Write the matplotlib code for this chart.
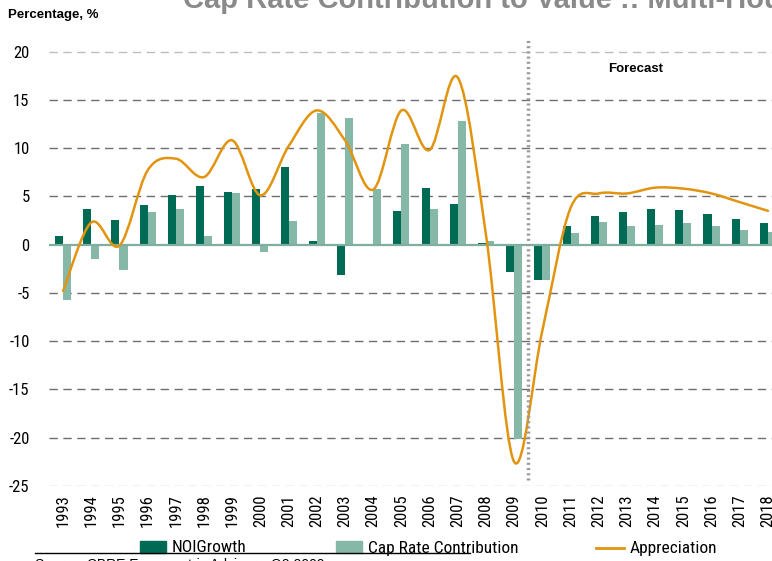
import numpy as np
import matplotlib
matplotlib.use('Agg')
import matplotlib.pyplot as plt
from matplotlib.path import Path
from matplotlib.patches import PathPatch, Rectangle
from matplotlib.lines import Line2D
from matplotlib import font_manager

years = [str(y) for y in range(1993, 2019)]
noi_growth = [0.9, 3.7, 2.5, 4.1, 5.1, 6.1, 5.4, 5.8, 8.0, 0.4, -3.1, 0.1, 3.5,
              5.9, 4.2, 0.2, -2.8, -3.7, 1.9, 3.0, 3.4, 3.7, 3.6, 3.2, 2.7, 2.2]
cap_rate = [-5.7, -1.5, -2.6, 3.4, 3.7, 0.9, 5.3, -0.8, 2.4, 13.6, 13.1, 5.8, 10.4,
            3.7, 12.8, 0.4, -20.1, -3.7, 1.2, 2.3, 1.9, 2.0, 2.2, 1.9, 1.5, 1.3]
appreciation = [-4.8, 2.3, -0.1, 7.7, 8.9, 7.0, 10.8, 5.1, 10.2, 13.9, 10.8, 5.7, 13.9,
                9.8, 17.3, 1.0, -22.5, -8.9, 3.8, 5.3, 5.3, 5.9, 5.8, 5.3, 4.4, 3.5]
yticks = [20, 15, 10, 5, 0, -5, -10, -15, -20, -25]
legend_labels = ['NOIGrowth', 'Cap Rate Contribution', 'Appreciation']

DARK = '#006b54'
LIGHT = '#86b8a8'
ORANGE = '#e3940f'
BOLD = ['Liberation Sans', 'DejaVu Sans']

# narrow font for ticks / legend if one exists
names = {f.name for f in font_manager.fontManager.ttflist}
NARROW = dict(family=['DejaVu Sans'], stretch='condensed')
for cand in ['Liberation Sans Narrow', 'Roboto Condensed', 'Open Sans Condensed',
             'DejaVu Sans Condensed']:
    if cand in names:
        NARROW = dict(family=[cand, 'DejaVu Sans'])
        break


def smooth_path(xs, ys):
    # excel style smoothed line: bezier segments through every point
    pts = np.column_stack([xs, ys])
    verts = [pts[0]]
    codes = [Path.MOVETO]
    n = len(pts)
    for i in range(n - 1):
        p0 = pts[i - 1] if i > 0 else pts[i]
        p1 = pts[i]
        p2 = pts[i + 1]
        p3 = pts[i + 2] if i + 2 < n else pts[i + 1]
        c1 = p1 + (p2 - p0) / 6.0
        c2 = p2 - (p3 - p1) / 6.0
        verts += [c1, c2, p2]
        codes += [Path.CURVE4] * 3
    return Path(verts, codes)


fig = plt.figure(figsize=(7.72, 5.61), dpi=100)
W, H = 772, 561
ax = fig.add_axes([49 / W, 1 - 486 / H, 733 / W, 448 / H])

x = np.arange(len(years))
bw = 0.285
ax.bar(x - bw / 2, noi_growth, width=bw, color=DARK, zorder=3)
ax.bar(x + bw / 2, cap_rate, width=bw, color=LIGHT, zorder=3)

patch = PathPatch(smooth_path(x, appreciation), facecolor='none',
                  edgecolor=ORANGE, lw=1.8, zorder=5, capstyle='round')
ax.add_patch(patch)

ax.set_xlim(-0.5, len(years) - 0.5)
ax.set_ylim(-25, 21.4)

for t in yticks:
    if t == 0:
        ax.axhline(0, color='#7fae9f', lw=1.6, zorder=4)
    else:
        c = '#bdbdbd' if t in (20, -25) else '#6e6e6e'
        ax.axhline(t, color=c, lw=1.0, ls=(0, (6, 4)), zorder=1)

ax.axvline(16.5, ymin=0.013, ymax=1.0, color='#9a9a9a', lw=2.5, ls=(0, (0.6, 0.9)),
           zorder=6)
ax.text(20.3, 18.2, 'Forecast', fontsize=9.5, fontweight='bold', family=BOLD,
        ha='center', va='center')

for s in ax.spines.values():
    s.set_visible(False)
ax.set_yticks(yticks)
ax.set_yticklabels([str(t) for t in yticks], fontsize=12, **NARROW)
ax.set_xticks(x)
ax.set_xticklabels(years, rotation=90, fontsize=12, **NARROW)
ax.tick_params(axis='both', length=0, pad=6)
ax.tick_params(axis='y', pad=14)

fig.text(8 / W, 1 - 15 / H, 'Percentage, %', fontsize=9.5, fontweight='bold',
         family=BOLD, va='center', ha='left')
fig.text(183 / W, 1 - 8 / H, 'Cap Rate Contribution to Value :: Multi-Housing',
         fontsize=21, fontweight='bold', color='#8a8a8a', family=BOLD,
         va='baseline', ha='left')

# legend drawn by hand along the bottom
ly = 1 - 548 / H
fig.add_artist(Rectangle((140 / W, 1 - 553 / H), 26 / W, 12 / H,
                         color=DARK, transform=fig.transFigure))
fig.add_artist(Rectangle((336 / W, 1 - 553 / H), 26 / W, 12 / H,
                         color=LIGHT, transform=fig.transFigure))
fig.add_artist(Line2D([596 / W, 624 / W], [ly, ly], color=ORANGE, lw=2))
for lx, lab in zip([172, 368, 630], legend_labels):
    fig.text(lx / W, ly, lab, fontsize=12.5, va='center', ha='left', **NARROW)

fig.add_artist(Line2D([35 / W, 470 / W], [1 - 553 / H, 1 - 553 / H],
                      color='black', lw=1.0))
fig.text(35 / W, 1 - 569 / H, 'Source: CBRE Econometric Advisors, Q2 2009',
         fontsize=10, family=BOLD, va='baseline', ha='left')

fig.savefig('out.png', dpi=100)
